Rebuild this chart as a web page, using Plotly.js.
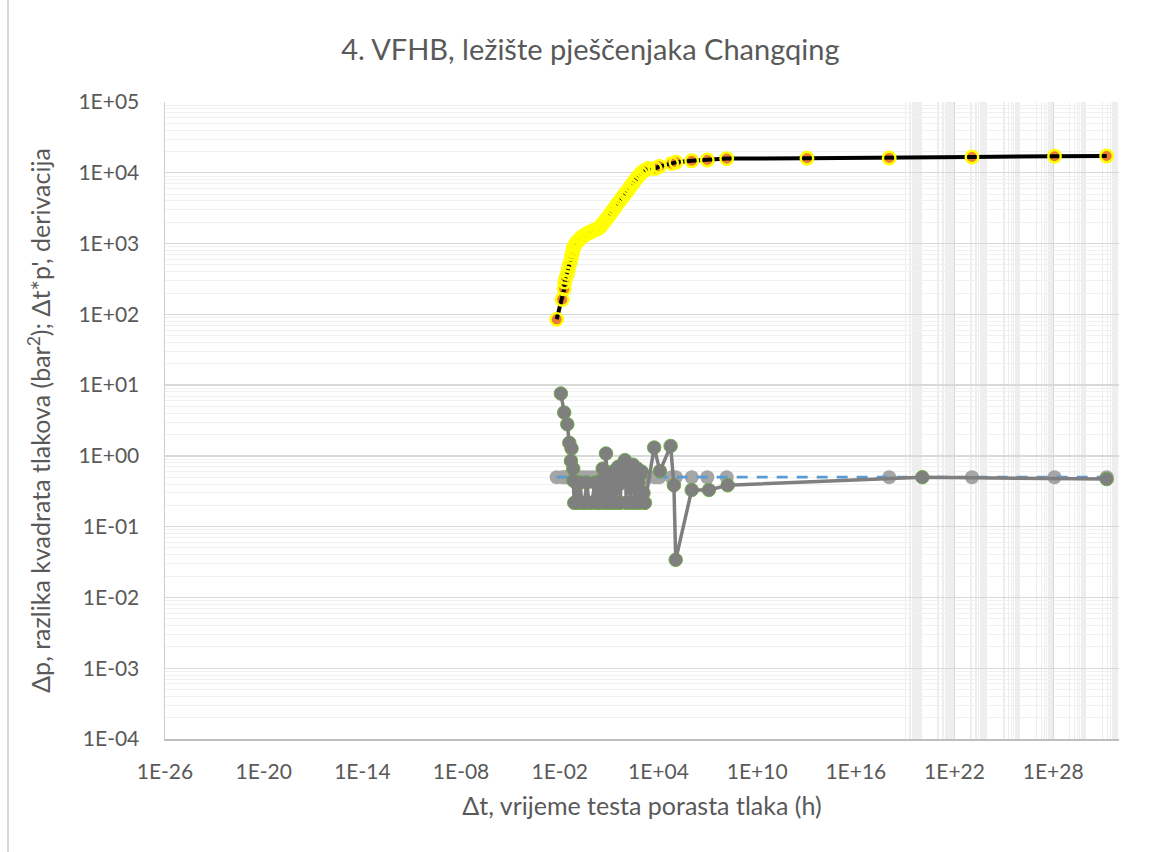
<!DOCTYPE html>
<html>
<head>
<meta charset="utf-8">
<script src="https://cdn.plot.ly/plotly-3.0.1.min.js"></script>
<style>
  html, body { margin: 0; padding: 0; background: #ffffff; }
  #chart { position: absolute; left: 0; top: 0; width: 1169px; height: 852px; }
  #edge { position: absolute; left: 7px; top: 0; width: 2px; height: 852px; background: #d9d9d9; }
</style>
</head>
<body>
<div id="chart"></div>
<div id="edge"></div>
<script>
// ---- Δp (razlika kvadrata tlakova), bar² ----
const dtP = [0.0065, 0.0141, 0.0186, 0.020, 0.024, 0.029, 0.033, 0.038, 0.044, 0.052,
  0.056, 0.062, 0.066, 0.078, 0.091, 0.107, 0.135, 0.17, 0.214, 0.288,
  0.398, 0.537, 0.741, 1.0, 1.38, 1.95, 2.75, 3.47, 4.47, 5.62,
  7.08, 8.91, 11.2, 14.8, 20, 26.3, 33.9, 44.7, 57.5, 74.1,
  97.7, 126, 166, 224, 295, 372, 468, 589, 851, 1200,
  1700, 2400, 6170, 11200, 63100, 115000, 1.05e6, 9.3e6, 1.41e8, 1.07e13,
  1.07e18, 1.15e23, 1.2e28, 1.78e31];
const dp = [85, 162, 229, 287, 331, 377, 430, 489, 550, 646,
  708, 776, 851, 912, 977, 1047, 1096, 1175, 1230, 1288,
  1349, 1413, 1445, 1514, 1549, 1622, 1698, 1820, 1950, 2089,
  2239, 2399, 2570, 2818, 3090, 3388, 3715, 3981, 4365, 4677,
  5129, 5495, 6026, 6607, 7244, 7762, 8318, 8913, 9772, 10470,
  10960, 11480, 11500, 12300, 13490, 14130, 14790, 15140, 15850, 16070,
  16180, 16710, 17100, 17260];

// ---- Derivacija Δt*p' ----
const derT = [0.0117, 0.0186, 0.0288, 0.038, 0.052, 0.048, 0.066, 0.066, 0.076, 0.095,
  0.12, 0.17, 0.219, 0.316, 0.437, 0.603, 0.891, 1.38, 1.78, 2.09,
  2.63, 3.3, 4.07, 5.01, 5.7, 6.46, 7.4, 8.32, 9.6, 11.2,
  13.2, 15.1, 17.4, 20, 23, 26.3, 30.2, 35.5, 41.7, 47.9,
  55, 63.1, 76, 91.2, 112, 135, 158, 182, 209, 245,
  282, 331, 380, 447, 525, 617, 708, 813, 955, 1230,
  1510, 5500, 12300, 55000, 87100, 112000, 1.05e6, 1.17e7, 1.62e8,
  1.1e20, 1.78e31];
const derV = [7.6, 4.1, 2.8, 1.53, 1.27, 0.85, 0.66, 0.45, 0.217, 0.42,
  0.217, 0.42, 0.217, 0.217, 0.42, 0.217, 0.217, 0.42, 0.217, 0.42,
  0.217, 0.45, 0.66, 0.217, 0.5, 1.08, 0.45, 0.217, 0.55, 0.5,
  0.3, 0.217, 0.6, 0.6, 0.35, 0.217, 0.65, 0.7, 0.4, 0.217,
  0.65, 0.75, 0.55, 0.87, 0.217, 0.6, 0.7, 0.45, 0.217, 0.6,
  0.75, 0.45, 0.217, 0.6, 0.66, 0.4, 0.217, 0.55, 0.6, 0.3,
  0.217, 1.31, 0.61, 1.38, 0.385, 0.034, 0.33, 0.33, 0.385,
  0.5, 0.47];

// ---- Radijalni tok (horizontalna linija derivacije) ----
const iarfT = [0.0065, 0.0141, 0.0186, 0.024, 0.033, 0.044, 0.056, 0.078, 0.107, 0.17,
  0.288, 0.537, 1.0, 1.95, 3.47, 5.62, 8.91, 14.8, 26.3, 44.7,
  74.1, 126, 224, 372, 589, 1200, 2400, 6170, 11200, 63100,
  115000, 1.05e6, 9.3e6, 1.41e8, 1.07e18, 1.15e23, 1.2e28, 1.78e31];
const iarfV = [0.5, 0.5, 0.5, 0.5, 0.5, 0.5, 0.5, 0.5, 0.5, 0.5,
  0.5, 0.5, 0.5, 0.5, 0.5, 0.5, 0.5, 0.5, 0.5, 0.5,
  0.5, 0.5, 0.5, 0.5, 0.5, 0.5, 0.5, 0.5, 0.5, 0.5,
  0.5, 0.5, 0.5, 0.5, 0.5, 0.5, 0.5, 0.5];

// ---- Tick labels ----
const xTickVals = [1e-26, 1e-20, 1e-14, 1e-8, 1e-2, 1e4, 1e10, 1e16, 1e22, 1e28];
const xTickText = ["1E-26", "1E-20", "1E-14", "1E-08", "1E-02", "1E+04", "1E+10", "1E+16", "1E+22", "1E+28"];
const yTickVals = [1e-4, 1e-3, 1e-2, 1e-1, 1, 10, 100, 1000, 1e4, 1e5];
const yTickText = ["1E-04", "1E-03", "1E-02", "1E-01", "1E+00", "1E+01", "1E+02", "1E+03", "1E+04", "1E+05"];

// gridline positions (axis decoration only)
const xMajorGrid = [1e22, 1e28];
const xMinorGrid = [];
for (let d = 19; d <= 31; d += 2) {
  for (let k = 1; k <= 9; k++) xMinorGrid.push(k * Math.pow(10, d));
}
const yMinorGrid = [];
for (let d = -4; d <= 4; d++) {
  for (let k = 2; k <= 9; k++) yMinorGrid.push(k * Math.pow(10, d));
}

const traces = [
  { x: [], y: [], xaxis: 'x2', yaxis: 'y', mode: 'markers', showlegend: false, hoverinfo: 'skip' },
  { x: iarfT, y: iarfV, mode: 'markers', name: 'radijalni tok',
    marker: { size: 14, color: '#A5A5A5' } },
  { x: iarfT, y: iarfV, mode: 'lines', name: 'radijalni tok linija',
    line: { color: '#5B9BD5', width: 2.75, dash: '11px,9px' } },
  // derivative: green-rimmed markers underneath, grey line + grey markers on top
  { x: derT, y: derV, mode: 'markers', name: "Δt*p' rub",
    marker: { size: 13.5, color: '#7F7F7F', line: { color: '#70AD47', width: 1 } } },
  { x: derT, y: derV, mode: 'lines+markers', name: "Δt*p'",
    line: { color: '#7F7F7F', width: 3.5 },
    marker: { size: 12, color: '#7F7F7F', line: { width: 0 } } },
  { x: dtP, y: dp, mode: 'markers', name: 'Δp',
    marker: { size: 11, color: '#ED7D31' } },
  { x: dtP, y: dp, mode: 'lines', name: 'Δp linija',
    line: { color: '#000000', width: 4 } },
  { x: dtP, y: dp, mode: 'markers', name: 'Δp rub',
    marker: { size: 12.5, color: 'rgba(0,0,0,0)', line: { color: '#FFFF00', width: 2.4 } } }
];

const tickFont = { family: 'Lato, sans-serif', size: 21, color: '#595959' };
const axisTitleFont = { family: 'Lato, sans-serif', size: 25, color: '#595959' };

const layout = {
  width: 1169, height: 852,
  margin: { l: 165, r: 50, t: 102, b: 113 },
  paper_bgcolor: '#ffffff', plot_bgcolor: '#ffffff',
  font: { family: 'Lato, sans-serif', color: '#595959' },
  showlegend: false,
  title: {
    text: '4. VFHB, ležište pješčenjaka Changqing',
    font: { family: 'Lato, sans-serif', size: 29, color: '#595959' },
    xref: 'container', x: 0.505, xanchor: 'center',
    yref: 'container', y: 0.941, yanchor: 'middle'
  },
  xaxis: {
    type: 'log', range: [-26, 32],
    tickmode: 'array', tickvals: xTickVals, ticktext: xTickText,
    showgrid: false, zeroline: false,
    showline: true, linecolor: '#bfbfbf', linewidth: 1.5,
    ticks: '', tickfont: tickFont, ticklabelstandoff: 13,
    minor: { tickmode: 'array', tickvals: xMinorGrid, showgrid: true, gridcolor: '#eeeeee', gridwidth: 1.3, ticks: '' },
    title: { text: 'Δt, vrijeme testa porasta tlaka (h)', font: axisTitleFont, standoff: 16 }
  },
  xaxis2: {
    type: 'log', range: [-26, 32], overlaying: 'x', anchor: 'y', side: 'bottom',
    tickmode: 'array', tickvals: xMajorGrid, showticklabels: false, ticks: '',
    showgrid: true, gridcolor: '#d9d9d9', gridwidth: 1.3,
    showline: false, zeroline: false
  },
  yaxis: {
    type: 'log', range: [-4, 5],
    tickmode: 'array', tickvals: yTickVals, ticktext: yTickText,
    showgrid: true, gridcolor: '#d9d9d9', gridwidth: 1.3, zeroline: false,
    minor: { tickmode: 'array', tickvals: yMinorGrid, showgrid: true, gridcolor: '#f0f0f0', gridwidth: 1, ticks: '' },
    showline: true, linecolor: '#cfcfcf', linewidth: 1.5,
    ticks: '', tickfont: tickFont, ticklabelstandoff: 20,
    title: { text: "Δp, razlika kvadrata tlakova (bar<sup>2</sup>); Δt*p', derivacija", font: axisTitleFont, standoff: 20 }
  }
};

Plotly.newPlot('chart', traces, layout, { staticPlot: true, displayModeBar: false });
</script>
</body>
</html>
